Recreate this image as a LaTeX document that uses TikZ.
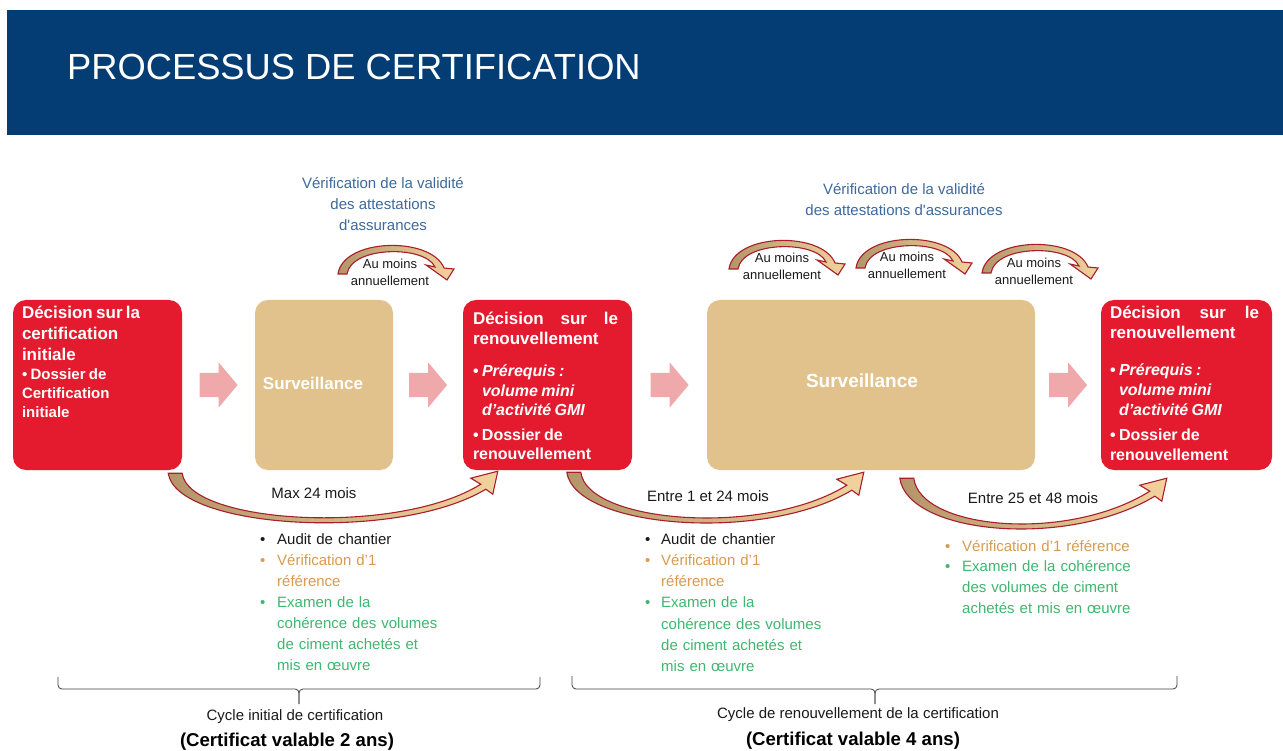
\documentclass[tikz,border=0pt]{standalone}
\usepackage{fontspec}
\setmainfont{Liberation Sans}[Ligatures=TeXOff]
\usetikzlibrary{shapes.arrows,calc}
\setlength\parindent{0pt}
\definecolor{hdr}{HTML}{033D74}
\definecolor{rbox}{HTML}{E41B2E}
\definecolor{tbox}{HTML}{E1C28C}
\definecolor{parrow}{HTML}{F0A9AA}
\definecolor{blu}{HTML}{3D6A9C}
\definecolor{org}{HTML}{D89B4E}
\definecolor{grn}{HTML}{40B66F}
\definecolor{arrline}{HTML}{A81E2A}
\definecolor{arrdark}{HTML}{B4956A}
\definecolor{arrlight}{HTML}{F2D39E}
\definecolor{txt}{HTML}{1A1A1A}
\newcommand\fs[2]{\fontsize{#1pt}{#2pt}\selectfont}
\newcommand\bigsweep[2]{%
 \path[sweepstyle] (#1) .. controls ($(#1)+(8,56)$) and ($(#2)+(-100,71)$) .. ($(#2)+(-12,18)$)
   -- ($(#2)+(-5,23)$) -- (#2) -- ($(#2)+(-27,7)$) -- ($(#2)+(-17,13)$)
   .. controls ($(#2)+(-100,65)$) and ($(#1)+(20,51)$) .. ($(#1)+(14,0)$) -- cycle;}
\newcommand\smallsweep[1]{%
 \path[sweepstyle] ($(#1)+(-55,28)$) .. controls ($(#1)+(-50,-8)$) and ($(#1)+(38,-10)$) .. ($(#1)+(51,22)$)
   -- ($(#1)+(61,23)$) -- ($(#1)+(54,34)$) -- ($(#1)+(33,19)$) -- ($(#1)+(42,21)$)
   .. controls ($(#1)+(32,-1)$) and ($(#1)+(-42,0)$) .. ($(#1)+(-46,28)$) -- cycle;}
\begin{document}
\begin{tikzpicture}[x=1pt,y=-1pt,
  redbox/.style={fill=rbox, rounded corners=13pt, inner sep=0pt},
  tanbox/.style={fill=tbox, rounded corners=13pt, inner sep=0pt},
  boxtext/.style={text=white, font=\bfseries, align=left, anchor=north west, inner sep=0pt, text width=158pt},
  parr/.style={single arrow, fill=parrow, draw=none, minimum height=38pt, minimum width=0pt,
     single arrow head extend=10.5pt, single arrow tip angle=100, inner sep=0pt, xshift=-5pt},
  sweepstyle/.style={left color=arrdark, right color=arrlight, draw=arrline, line width=1.1pt},
  small/.style={text=txt, font=\fs{13}{17}, align=center, inner sep=0pt},
  lbl/.style={text=txt, font=\fs{15}{19}, inner sep=0pt},
  bluetext/.style={text=blu, font=\fs{15}{21}, align=center, inner sep=0pt},
  listtext/.style={text=txt, anchor=north west, inner sep=0pt, align=left, text width=220pt, font=\fs{15}{21}},
  bracestyle/.style={draw=black!75, line width=0.8pt, rounded corners=4pt},
  certif/.style={text=black, font=\fs{18.6}{20}\bfseries, inner sep=0pt}]
\useasboundingbox (0,0) rectangle (1283,751);
\fill[white] (0,0) rectangle (1283,751);
% header
\node[fill=hdr, minimum width=1276pt, minimum height=125pt, inner sep=0pt, anchor=north west] (hdr) at (7,10) {};
\node[text=white, font=\fs{36.3}{40}, anchor=west, inner sep=0pt] (title) at (67,67) {PROCESSUS DE CERTIFICATION};
% boxes
\node[redbox, minimum width=169pt, minimum height=170pt] (b1) at (97.5,385) {};
\node[tanbox, minimum width=138pt, minimum height=170pt] (s1) at (324,385) {};
\node[redbox, minimum width=169pt, minimum height=170pt] (b2) at (547.5,385) {};
\node[tanbox, minimum width=328pt, minimum height=170pt] (s2) at (871,385) {};
\node[redbox, minimum width=171pt, minimum height=170pt] (b3) at (1186.5,385) {};
% box texts
\node[boxtext] (t1) at ($(b1.north west)+(9,6)$) {\fs{17}{21}Décision sur la\par certification\par initiale\par\fs{15}{19}• Dossier de\par Certification\par initiale\par};
\node[text=white, font=\fs{17}{20}\bfseries, inner sep=0pt] (st1) at ($(s1.center)+(-11,-2)$) {Surveillance};
\node[text=white, font=\fs{19}{22}\bfseries, inner sep=0pt] (st2) at ($(s2.center)+(-9,-4)$) {Surveillance};
\node[boxtext] (t2) at ($(b2.north west)+(10,12)$) {\fs{17}{20}\hbox to 145pt{Décision\hfill sur\hfill le}
renouvellement\par\vspace{13pt}\fs{16}{19.5}\makebox[9pt][l]{•}\textit{Prérequis :}\par
\hspace*{9pt}\textit{volume mini}\par\hspace*{9pt}\textit{d’activité GMI}\par\vspace{5pt}%
\makebox[9pt][l]{•}Dossier de\par renouvellement\par};
\node[boxtext] (t3) at ($(b3.north west)+(9,6)$) {\fs{17}{20}\hbox to 149pt{Décision\hfill sur\hfill le}
renouvellement\par\vspace{17pt}\fs{16}{20}\makebox[9pt][l]{•}\textit{Prérequis :}\par
\hspace*{9pt}\textit{volume mini}\par\hspace*{9pt}\textit{d’activité GMI}\par\vspace{5pt}%
\makebox[9pt][l]{•}Dossier de\par renouvellement\par};
% pink block arrows
\node[parr] (p1) at ($(b1.east)!0.5!(s1.west)$) {\rule{0pt}{24pt}};
\node[parr] (p2) at ($(s1.east)!0.5!(b2.west)$) {\rule{0pt}{24pt}};
\node[parr] (p3) at ($(b2.east)!0.5!(s2.west)$) {\rule{0pt}{24pt}};
\node[parr] (p4) at ($(s2.east)!0.5!(b3.west)$) {\rule{0pt}{24pt}};
% big sweeps
\coordinate (S1) at ($(b1.south east)+(-14,3)$);
\coordinate (E1) at ($(b2.south west)+(35,1)$);
\coordinate (S2) at ($(b2.south west)+(104,2)$);
\coordinate (E2) at ($(s2.south west)+(157,2)$);
\coordinate (S3) at ($(s2.south west)+(193,8)$);
\coordinate (E3) at ($(b3.south west)+(66,8)$);
\bigsweep{S1}{E1}
\bigsweep{S2}{E2}
\bigsweep{S3}{E3}
\node[lbl] (m1) at (314,493) {Max 24 mois};
\node[lbl] (m2) at (708,496) {Entre 1 et 24 mois};
\node[lbl] (m3) at (1033,498) {Entre 25 et 48 mois};
% top small sweeps
\coordinate (A1) at (393,246);
\coordinate (A2) at (784,241);
\coordinate (A3) at (911,240);
\coordinate (A4) at (1037,245);
\smallsweep{A1}\smallsweep{A2}\smallsweep{A3}\smallsweep{A4}
\node[small] (q1) at ($(A1)+(-3,26)$) {Au moins\\annuellement};
\node[small] (q2) at ($(A2)+(-2,25)$) {Au moins\\annuellement};
\node[small] (q3) at ($(A3)+(-4,25)$) {Au moins\\annuellement};
\node[small] (q4) at ($(A4)+(-3,26)$) {Au moins\\annuellement};
% blue texts
\node[bluetext] (v1) at (383,204) {Vérification de la validité\\des attestations\\d'assurances};
\node[bluetext] (v2) at (904,200) {Vérification de la validité\\des attestations d'assurances};
% lists
\node[listtext] (l1) at (260,533) {%
\makebox[17pt][l]{•}Audit de chantier\par
{\color{org}\makebox[17pt][l]{•}Vérification d’1\par
\hspace*{17pt}référence\par}
{\color{grn}\makebox[17pt][l]{•}Examen de la\par
\hspace*{17pt}cohérence des volumes\par
\hspace*{17pt}de ciment achetés et\par
\hspace*{17pt}mis en œuvre\par}};
\node[listtext, font=\fs{15}{21.3}] (l2) at (645,533) {%
\makebox[16pt][l]{•}Audit de chantier\par
{\color{org}\makebox[16pt][l]{•}Vérification d’1\par
\hspace*{16pt}référence\par}
{\color{grn}\makebox[16pt][l]{•}Examen de la\par
\hspace*{16pt}cohérence des volumes\par
\hspace*{16pt}de ciment achetés et\par
\hspace*{16pt}mis en œuvre\par}};
\node[listtext, font=\fs{15}{20.7}] (l3) at (945,540) {%
{\color{org}\makebox[17pt][l]{•}Vérification d’1 référence\par}
{\color{grn}\makebox[17pt][l]{•}Examen de la cohérence\par
\hspace*{17pt}des volumes de ciment\par
\hspace*{17pt}achetés et mis en œuvre\par}};
% braces
\coordinate (B1l) at (58,677); \coordinate (B1r) at (540,677); \coordinate (B1m) at (299,704);
\coordinate (B2l) at (572,676); \coordinate (B2r) at (1177,676); \coordinate (B2m) at (875,704);
\draw[bracestyle] (B1l) |- (B1m |- 0,689) -- (B1m);
\draw[bracestyle] (B1r) |- (B1m |- 0,689) -- (B1m);
\draw[bracestyle] (B2l) |- (B2m |- 0,689) -- (B2m);
\draw[bracestyle] (B2r) |- (B2m |- 0,689) -- (B2m);
\node[lbl] (c1) at (295,717) {Cycle initial de certification};
\node[certif] (c1b) at (287,742) {(Certificat valable 2 ans)};
\node[lbl] (c2) at (858,715) {Cycle de renouvellement de la certification};
\node[certif] (c2b) at (853,741) {(Certificat valable 4 ans)};
\end{tikzpicture}
\end{document}
